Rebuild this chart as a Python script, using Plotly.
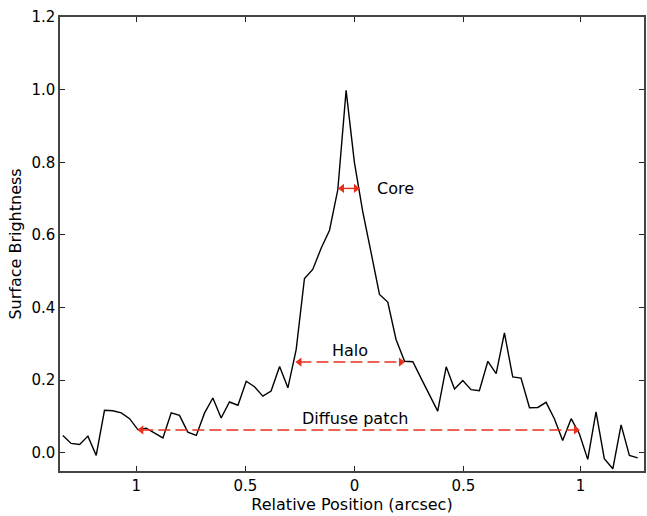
import plotly.graph_objects as go

# Profile data (x in arcsec offset, y surface brightness)
x_pos = [-1.337, -1.299, -1.260, -1.222, -1.184, -1.146, -1.108, -1.069, -1.031, -0.993,
         -0.955, -0.917, -0.878, -0.840, -0.802, -0.764, -0.725, -0.687, -0.649, -0.611,
         -0.573, -0.534, -0.496, -0.458, -0.420, -0.382, -0.343, -0.305, -0.267, -0.229,
         -0.191, -0.152, -0.114, -0.076, -0.038, 0.000, 0.038, 0.077, 0.115, 0.153,
         0.191, 0.230, 0.268, 0.306, 0.344, 0.382, 0.421, 0.459, 0.497, 0.535,
         0.573, 0.612, 0.650, 0.688, 0.726, 0.764, 0.803, 0.841, 0.879, 0.917,
         0.955, 0.994, 1.032, 1.070, 1.108, 1.146, 1.185, 1.223, 1.261, 1.299]
brightness = [0.048, 0.026, 0.023, 0.046, -0.007, 0.117, 0.116, 0.110, 0.094, 0.064,
              0.068, 0.055, 0.041, 0.110, 0.103, 0.057, 0.048, 0.110, 0.151, 0.096,
              0.140, 0.131, 0.197, 0.182, 0.156, 0.170, 0.238, 0.179, 0.284, 0.480,
              0.505, 0.564, 0.613, 0.725, 0.998, 0.800, 0.665, 0.550, 0.436, 0.415,
              0.312, 0.252, 0.251, 0.205, 0.160, 0.115, 0.237, 0.176, 0.199, 0.174,
              0.171, 0.252, 0.218, 0.330, 0.209, 0.206, 0.124, 0.125, 0.139, 0.094,
              0.034, 0.094, 0.052, -0.018, 0.113, -0.016, -0.044, 0.077, -0.007, -0.014]

tick_vals = [-1.0, -0.5, 0.0, 0.5, 1.037]
tick_text = ["1", "0.5", "0", "0.5", "1"]
y_ticks = [0.0, 0.2, 0.4, 0.6, 0.8, 1.0, 1.2]

# Annotation arrows: (x_start, x_end, y)
core = (-0.072, 0.022, 0.728)
halo = (-0.267, 0.2285, 0.250)
diffuse = (-0.992, 1.031, 0.063)

RED = "#e8301c"
FONT = "DejaVu Sans"

fig = go.Figure()
fig.add_trace(go.Scatter(x=x_pos, y=brightness, mode="lines",
                         line=dict(color="black", width=1.4), showlegend=False,
                         hoverinfo="skip"))

hx = 0.015  # half arrowhead length in data units
for (x0, x1, yv), dash in [(core, "solid"), (halo, "12px,5px"), (diffuse, "12px,5px")]:
    fig.add_trace(go.Scatter(x=[x0 + hx, x1 - hx], y=[yv, yv], mode="lines",
                             line=dict(color=RED, width=1.4, dash=dash),
                             showlegend=False, hoverinfo="skip"))
    fig.add_trace(go.Scatter(x=[x0 + hx, x1 - hx], y=[yv, yv], mode="markers",
                             marker=dict(symbol=["triangle-left", "triangle-right"],
                                         size=8, color=RED, line=dict(width=0)),
                             showlegend=False, hoverinfo="skip"))

fig.add_annotation(x=0.094, y=0.728, text="Core", showarrow=False, xanchor="left",
                   yanchor="middle", font=dict(family=FONT, size=16, color="black"))
fig.add_annotation(x=-0.02, y=0.282, text="Halo", showarrow=False, xanchor="center",
                   yanchor="middle", font=dict(family=FONT, size=16, color="black"))
fig.add_annotation(x=0.005, y=0.094, text="Diffuse patch", showarrow=False, xanchor="center",
                   yanchor="middle", font=dict(family=FONT, size=16, color="black"))

axis_common = dict(showgrid=False, zeroline=False, showline=True, linecolor="#444",
                   linewidth=1.5, mirror="ticks", ticks="inside", ticklen=5,
                   tickcolor="#222", tickwidth=1,
                   tickfont=dict(family=FONT, size=15, color="black"))

fig.update_xaxes(range=[-1.350, 1.328], tickvals=tick_vals, ticktext=tick_text,
                 title=dict(text="Relative Position (arcsec)",
                            font=dict(family=FONT, size=16, color="black"), standoff=4),
                 **axis_common)
fig.update_yaxes(range=[-0.05, 1.2], tickvals=y_ticks, tickformat=".1f",
                 title=dict(text="Surface Brightness",
                            font=dict(family=FONT, size=16, color="black"), standoff=6),
                 **axis_common)

fig.update_layout(width=647, height=516, margin=dict(l=60, r=1, t=17, b=45),
                  plot_bgcolor="white", paper_bgcolor="white",
                  font=dict(family=FONT))

fig.write_html("out.html", config={"displayModeBar": False},
               post_script="document.body.style.margin='0px';")
